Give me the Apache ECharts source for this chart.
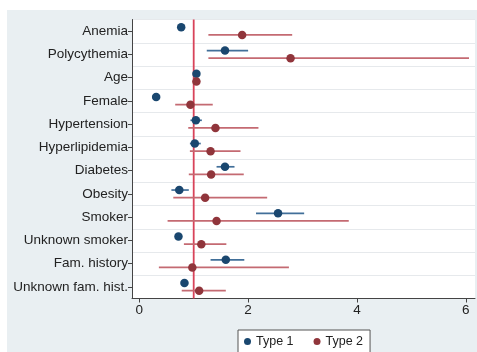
<!DOCTYPE html>
<html>
<head>
<meta charset="utf-8">
<script src="https://cdn.jsdelivr.net/npm/echarts@6/dist/echarts.min.js"></script>
<style>
html,body{margin:0;padding:0;background:#fff;}
#c{width:477px;height:352px;}
</style>
</head>
<body>
<div id="c"></div>
<script>
// ---- data ----
var categories = ["Anemia","Polycythemia","Age","Female","Hypertension","Hyperlipidemia","Diabetes","Obesity","Smoker","Unknown smoker","Fam. history","Unknown fam. hist."];
var type1Est = [0.77, 1.575, 1.05, 0.31, 1.04, 1.02, 1.575, 0.735, 2.55, 0.72, 1.59, 0.83];
var type1Lo  = [0.71, 1.24, 1.03, 0.29, 0.94, 0.93, 1.42, 0.59, 2.145, 0.70, 1.31, 0.77];
var type1Hi  = [0.83, 2.00, 1.07, 0.33, 1.15, 1.13, 1.75, 0.91, 3.03, 0.74, 1.93, 0.90];
var type2Est = [1.89, 2.78, 1.05, 0.94, 1.40, 1.31, 1.32, 1.21, 1.42, 1.14, 0.975, 1.10];
var type2Lo  = [1.27, 1.27, 1.03, 0.66, 0.90, 0.93, 0.91, 0.625, 0.52, 0.82, 0.36, 0.78];
var type2Hi  = [2.81, 6.06, 1.07, 1.35, 2.19, 1.86, 1.92, 2.35, 3.85, 1.60, 2.75, 1.59];
var xTicks = [0, 2, 4, 6];
var refValue = 1;
var seriesNames = ["Type 1", "Type 2"];

// ---- style ----
var OFF = 0.165;
var dotColors = ["#1a476f", "#90353b"];
var ciColors = ["#416f99", "#c46a72"];
var refColor = "#d8435a";
var FONT = "Liberation Sans, Arial, sans-serif";

function pts(est, sign) {
  return est.map(function (v, i) { return [v, i + sign * OFF]; });
}
function cis(lo, hi, sign) {
  return lo.map(function (v, i) { return [v, hi[i], i + sign * OFF]; });
}
function ciSeries(name, data, color, legendColor) {
  return {
    type: 'custom', name: name, xAxisIndex: 0, yAxisIndex: 1, z: 3,
    itemStyle: { color: legendColor },
    renderItem: function (params, api) {
      var a = api.coord([api.value(0), api.value(2)]);
      var b = api.coord([api.value(1), api.value(2)]);
      return { type: 'line', shape: { x1: a[0], y1: a[1], x2: b[0], y2: b[1] },
               style: { stroke: color, lineWidth: 1.7 } };
    },
    encode: { x: [0, 1], y: 2 },
    data: data, silent: true
  };
}

var chart = echarts.init(document.getElementById('c'), null, { renderer: 'canvas' });
chart.setOption({
  animation: false,
  backgroundColor: '#ffffff',
  textStyle: { fontFamily: FONT },
  graphic: [{ type: 'rect', left: 7, top: 10, shape: { width: 470, height: 342 }, style: { fill: '#e9eff2' }, z: -10 }],
  grid: { left: 132, top: 19.5, right: 2, bottom: 53.5, show: true, backgroundColor: '#ffffff', borderWidth: 0 },
  legend: {
    data: [{ name: seriesNames[0], icon: 'circle', itemStyle: { color: dotColors[0] } },
           { name: seriesNames[1], icon: 'circle', itemStyle: { color: dotColors[1] } }],
    left: 238, top: 330, itemWidth: 7, itemHeight: 7, itemGap: 20,
    padding: [5, 7, 5, 6], borderColor: '#555', borderWidth: 1, backgroundColor: '#fff', borderRadius: 0,
    textStyle: { fontSize: 12.5, color: '#222', fontFamily: FONT }
  },
  xAxis: [{
    type: 'value', min: -0.134, max: 6.17,
    axisLine: { show: true, onZero: false, lineStyle: { color: '#444', width: 1 } },
    axisTick: { show: true, length: 4, customValues: xTicks, lineStyle: { color: '#444' } },
    axisLabel: { customValues: xTicks, fontSize: 13.5, color: '#222', margin: 5, fontFamily: FONT },
    splitLine: { show: false }
  }],
  yAxis: [{
    type: 'category', data: categories, inverse: true, boundaryGap: true,
    axisLine: { show: true, onZero: false, lineStyle: { color: '#444', width: 1 } },
    axisTick: { show: true, alignWithLabel: true, length: 4, lineStyle: { color: '#444' } },
    axisLabel: { fontSize: 13.5, color: '#222', margin: 4, fontFamily: FONT },
    splitLine: { show: true, lineStyle: { color: '#e6e9ec', width: 1 } }
  }, {
    type: 'value', min: -0.5, max: 11.5, inverse: true, show: false,
    splitLine: { show: false }
  }],
  series: [
    { type: 'custom', xAxisIndex: 0, yAxisIndex: 1, z: 1, silent: true,
      data: [[refValue]], encode: { x: 0 },
      renderItem: function (params, api) {
        var cs = params.coordSys;
        var x = api.coord([api.value(0), 0])[0];
        return { type: 'line', shape: { x1: x, y1: cs.y, x2: x, y2: cs.y + cs.height },
                 style: { stroke: refColor, lineWidth: 1.8 } };
      } },
    ciSeries(seriesNames[0], cis(type1Lo, type1Hi, -1), ciColors[0], dotColors[0]),
    ciSeries(seriesNames[1], cis(type2Lo, type2Hi, 1), ciColors[1], dotColors[1]),
    { type: 'scatter', name: seriesNames[0], yAxisIndex: 1, symbol: 'circle', symbolSize: 8.5, z: 5,
      itemStyle: { color: dotColors[0], opacity: 1 }, data: pts(type1Est, -1) },
    { type: 'scatter', name: seriesNames[1], yAxisIndex: 1, symbol: 'circle', symbolSize: 8.5, z: 5,
      itemStyle: { color: dotColors[1], opacity: 1 }, data: pts(type2Est, 1) }
  ]
});
</script>
</body>
</html>
